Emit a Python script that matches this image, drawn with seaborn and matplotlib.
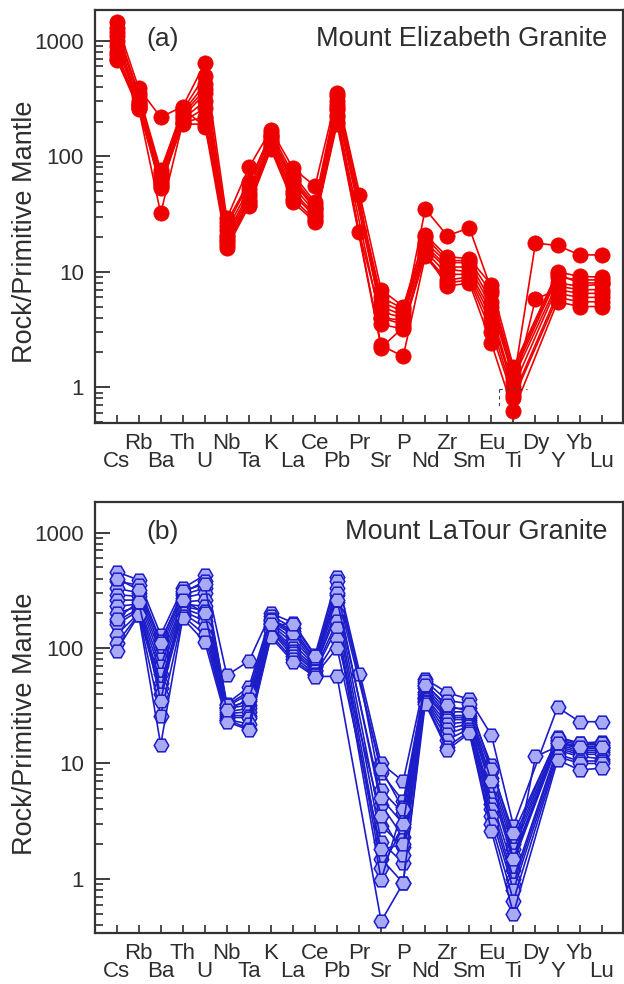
import numpy as np
import pandas as pd
import matplotlib
matplotlib.use("Agg")
import matplotlib.pyplot as plt
from matplotlib.ticker import FixedLocator, FixedFormatter, LogLocator, NullFormatter
import seaborn as sns

# Element order of the primitive-mantle normalised spider diagram
elements = ["Cs", "Rb", "Ba", "Th", "U", "Nb", "Ta", "K", "La", "Ce", "Pb", "Pr",
            "Sr", "P", "Nd", "Zr", "Sm", "Eu", "Ti", "Dy", "Y", "Yb", "Lu"]
nan = np.nan

# Mount Elizabeth Granite (rock / primitive mantle)
me_01 = [1450, 390, 218, 270, 640, 29, 80, 170, 79, 55, 350, nan, 7.0, 5.0, 21, 13.5, 13, 7.7, 1.5, nan, 10, 9.1, 9.0]
me_02 = [1300, 350, 76, 250, 500, 25, 58, 160, 70, 40, 330, 46, 4.0, 3.8, 35, 20.5, 24, 7.0, 1.1, 17.7, 16.9, 14, 14]
me_03 = [1200, 330, 70, 240, 420, 23, 52, 150, 65, 38, 300, nan, 5.5, 4.5, 18, 12, 12, 5.5, 1.3, nan, 9.0, 8.5, 8.5]
me_04 = [1100, 300, 65, 230, 380, 21, 48, 140, 60, 35, 280, nan, 5.0, 4.2, 17, 11, 11, 5.0, 1.2, nan, 8.0, 7.5, 7.8]
me_05 = [1000, 290, 60, 220, 350, 20, 45, 135, 55, 33, 250, nan, 4.5, 4.0, 16, 10.5, 10, 4.5, 1.0, nan, 7.5, 7.0, 7.0]
me_06 = [900, 280, 55, 210, 300, 19, 42, 130, 50, 31, 230, 22, 4.0, 3.5, 15, 9.5, 9.5, 4.0, 0.95, 5.8, 7.0, 6.5, 6.5]
me_07 = [800, 270, 53, 200, 260, 18, 40, 125, 47, 30, 220, nan, 3.5, 3.2, 14, 8.5, 9.0, 3.5, 0.85, nan, 6.5, 6.0, 6.0]
me_08 = [750, 260, 32, 195, 220, 17, 38, 120, 43, 28, 200, nan, 2.3, 1.85, 13.6, 8.0, 8.5, 3.0, 0.8, nan, 6.0, 5.5, 5.5]
me_09 = [700, 255, 58, 190, 190, 16, 37, 115, 40, 27, 190, nan, 2.2, 3.3, 14.5, 7.5, 8.0, 2.4, 0.62, nan, 5.5, 5.0, 5.0]
me_10 = [685, 280, 72, 260, 180, 27, 60, 150, 62, 36, 260, nan, 6.0, 4.8, 20, 12.5, 12.5, 6.5, 1.4, nan, 9.5, 8.0, 8.0]

# Mount LaTour Granite (rock / primitive mantle)
ml_01 = [458, 388, 130, 329, 429, 58, 77, 200, 166, 87, 414, nan, 10, 7.0, 54, 41, 36, 17.6, 2.9, nan, 30.7, 23, 23]
ml_02 = [380, 350, 115, 300, 380, 33, 46, 190, 150, 80, 380, nan, 8.3, 4.7, 50, 30, 30, 9.7, 2.2, nan, 17, 15, 15.4]
ml_03 = [330, 300, 100, 290, 330, 31, 40, 180, 140, 78, 330, 60, 5.9, 3.7, 47, 28, 28, 8.5, 2.0, nan, 16, 14.5, 14.5]
ml_04 = [290, 280, 90, 270, 300, 30, 35, 170, 130, 75, 290, nan, 4.4, 2.3, 45, 26, 26, 7.5, 1.8, nan, 15.5, 14, 14]
ml_05 = [260, 260, 80, 250, 260, 30, 32, 165, 120, 73, 250, nan, 2.9, 1.9, 42, 25, 25, 6.5, 1.6, nan, 15, 13.5, 13.5]
ml_06 = [230, 240, 70, 240, 230, 28, 30, 160, 110, 70, 220, nan, 2.1, 1.37, 40, 24, 24, 6.0, 1.4, nan, 14.5, 13, 13]
ml_07 = [200, 230, 60, 230, 210, 27, 28, 155, 100, 68, 200, nan, 1.5, 0.92, 38, 22, 23, 5.0, 1.2, 11.5, 14, 12.5, 12.5]
ml_08 = [170, 220, 50, 220, 190, 26, 26, 150, 95, 65, 170, nan, 1.24, 2.8, 37, 20, 22, 4.5, 1.0, nan, 13.5, 12, 12]
ml_09 = [160, 210, 45, 210, 170, 25, 25, 145, 90, 63, 150, nan, 0.98, 4.2, 36, 18, 21, 4.0, 0.9, nan, 13, 11.5, 11]
ml_10 = [130, 200, 40, 200, 150, 24, 22, 140, 85, 60, 120, nan, 3.5, 1.6, 35, 16, 20, 3.5, 0.8, nan, 12, 10.5, 10.5]
ml_11 = [110, 195, 26, 190, 130, 24, 20, 130, 80, 58, 100, nan, 1.8, 2.0, 34, 14, 19, 3.0, 0.65, nan, 11.5, 10, 10]
ml_12 = [95, 193, 14.5, 181, 113, 23, 19.5, 124, 76, 56.5, 57, nan, 0.43, 0.92, 33, 13.1, 18.3, 2.6, 0.5, nan, 10.7, 8.8, 9.1]
ml_13 = [400, 320, 110, 310, 360, 32, 42, 175, 135, 82, 300, nan, 9.0, 4.0, 52, 35, 33, 9.0, 2.5, nan, 16.5, 15, 15]
ml_14 = [180, 250, 35, 260, 200, 29, 36, 160, 160, 85, 260, nan, 5.0, 3.0, 48, 32, 28, 7.0, 1.5, nan, 15, 13.8, 14]

elizabeth = {"ME-01": me_01, "ME-02": me_02, "ME-03": me_03, "ME-04": me_04, "ME-05": me_05,
             "ME-06": me_06, "ME-07": me_07, "ME-08": me_08, "ME-09": me_09, "ME-10": me_10}
latour = {"ML-01": ml_01, "ML-02": ml_02, "ML-03": ml_03, "ML-04": ml_04, "ML-05": ml_05,
          "ML-06": ml_06, "ML-07": ml_07, "ML-08": ml_08, "ML-09": ml_09, "ML-10": ml_10,
          "ML-11": ml_11, "ML-12": ml_12, "ML-13": ml_13, "ML-14": ml_14}


def to_long(samples):
    rows = []
    for name, vals in samples.items():
        for i, v in enumerate(vals):
            rows.append({"sample": name, "pos": i, "element": elements[i], "value": v})
    df = pd.DataFrame(rows)
    return df.dropna(subset=["value"])


sns.set_style("ticks")
plt.rcParams["font.family"] = ["Liberation Sans", "DejaVu Sans"]
TEXT = "#2e2e2e"

fig = plt.figure(figsize=(6.24, 9.84), dpi=100)
ax_a = fig.add_axes([95 / 624, 1 - 423 / 984, 528 / 624, 413 / 984])
ax_b = fig.add_axes([95 / 624, 1 - 933 / 984, 528 / 624, 431 / 984])


def style_axes(ax, ylim, tag, title, label_y):
    ax.set_yscale("log")
    ax.set_xlim(-0.98, 22.97)
    ax.set_ylim(*ylim)
    ax.yaxis.set_major_locator(FixedLocator([1, 10, 100, 1000]))
    ax.yaxis.set_major_formatter(FixedFormatter(["1", "10", "100", "1000"]))
    ax.yaxis.set_minor_locator(LogLocator(base=10, subs=np.arange(2, 10) * 1.0, numticks=20))
    ax.yaxis.set_minor_formatter(NullFormatter())
    ax.tick_params(axis="y", which="major", direction="in", length=11, width=1.3,
                   labelsize=16, pad=8, colors=TEXT, left=True, right=False)
    ax.tick_params(axis="y", which="minor", direction="in", length=5.5, width=1.2,
                   colors=TEXT, left=True, right=False)

    # element labels in two staggered rows: odd positions on the upper row,
    # even positions (Cs, Ba, U, ...) on the lower row
    upper = list(range(1, len(elements), 2))
    lower = list(range(0, len(elements), 2))
    ax.xaxis.set_major_locator(FixedLocator(upper))
    ax.xaxis.set_major_formatter(FixedFormatter([elements[i] for i in upper]))
    ax.xaxis.set_minor_locator(FixedLocator(lower))
    ax.xaxis.set_minor_formatter(FixedFormatter([elements[i] for i in lower]))
    ax.tick_params(axis="x", which="major", direction="in", length=6, width=1.2,
                   labelsize=16, pad=7.5, colors=TEXT, bottom=True, top=False)
    ax.tick_params(axis="x", which="minor", direction="in", length=6, width=1.2,
                   labelsize=16, pad=20.5, colors=TEXT, bottom=True, top=False)

    ax.set_xlabel("")
    ax.set_ylabel("Rock/Primitive Mantle", fontsize=19.5, color=TEXT)
    ax.yaxis.set_label_coords(-0.108, label_y)
    for sp in ax.spines.values():
        sp.set_color("#333333")
        sp.set_linewidth(1.6)
        sp.set_visible(True)
    ax.text(0.098, 0.93, tag, transform=ax.transAxes, fontsize=19, color=TEXT,
            ha="left", va="center")
    ax.text(0.97, 0.93, title, transform=ax.transAxes, fontsize=19.5, color=TEXT,
            ha="right", va="center")


# (a) Mount Elizabeth Granite
ax_a.set_yscale("log")
sns.lineplot(data=to_long(elizabeth), x="pos", y="value", units="sample", estimator=None,
             sort=False, color="#ee0000", lw=1.2, marker="o", markersize=11,
             markerfacecolor="#ee0000", markeredgecolor="#ee0000", markeredgewidth=0.5,
             legend=False, ax=ax_a)
# small dashed bracket below the Ti minimum
ax_a.plot([17.35, 18.6], [0.965, 0.965], ls=(0, (3, 3)), color="#444444", lw=0.8)
ax_a.plot([17.35, 17.35], [0.965, 0.69], ls=(0, (3, 3)), color="#444444", lw=0.8)
style_axes(ax_a, (0.49, 1850), "(a)", "Mount Elizabeth Granite", 0.463)

# (b) Mount LaTour Granite
ax_b.set_yscale("log")
sns.lineplot(data=to_long(latour), x="pos", y="value", units="sample", estimator=None,
             sort=False, color="#1c1cc8", lw=1.2, marker="H", markersize=10.5,
             markerfacecolor="#a9aaf6", markeredgecolor="#1c1cc8", markeredgewidth=1.1,
             legend=False, ax=ax_b)
style_axes(ax_b, (0.34, 1840), "(b)", "Mount LaTour Granite", 0.485)

fig.savefig("out.png", dpi=100, facecolor="white")
